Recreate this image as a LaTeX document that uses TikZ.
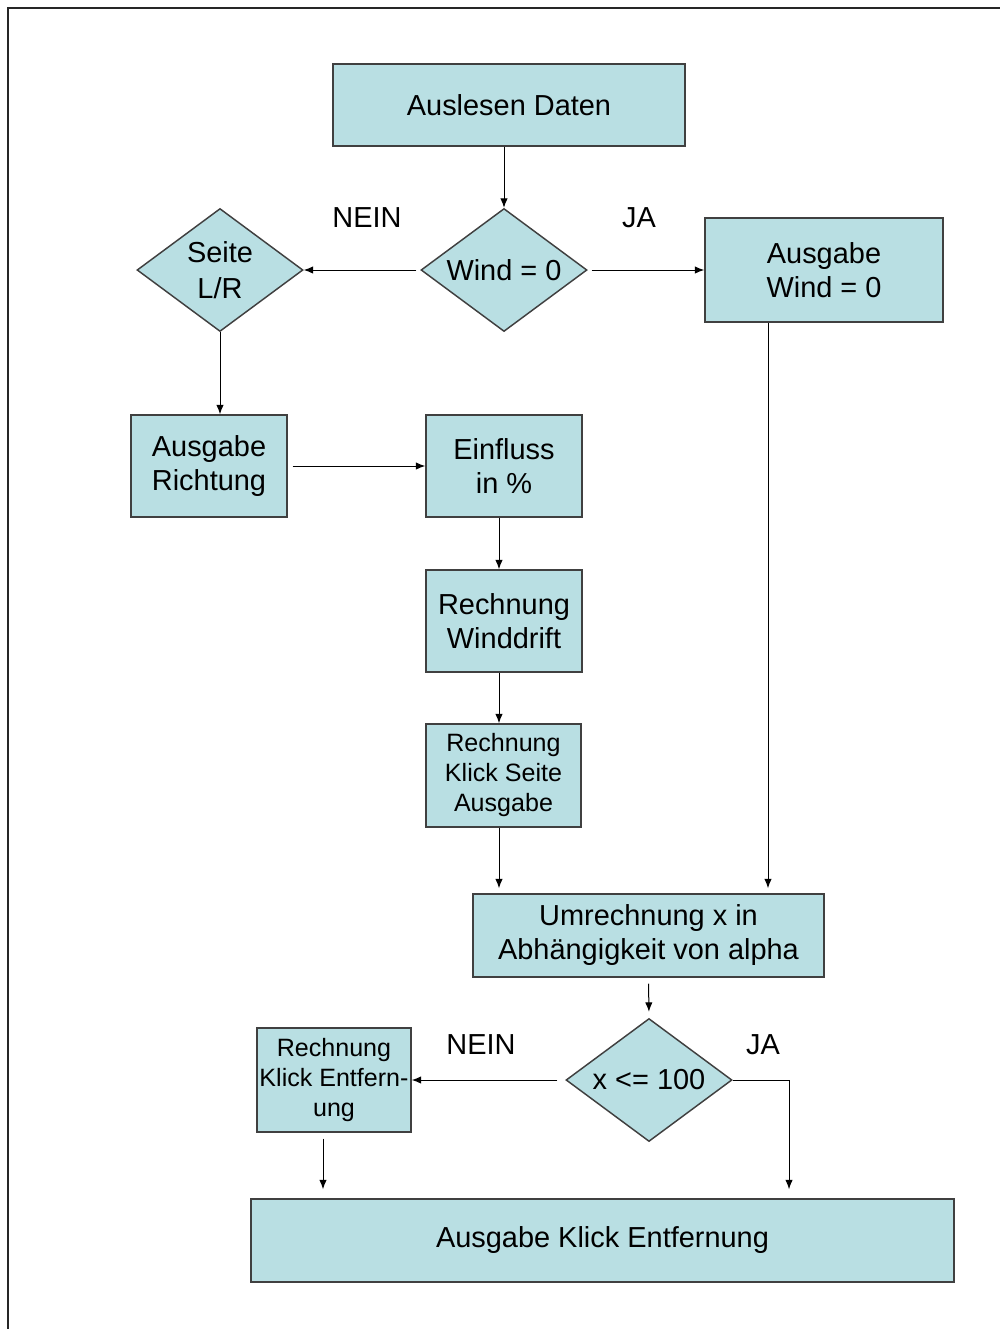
\documentclass[tikz,border=0pt]{standalone}
\usepackage{fontspec}
\setmainfont{Liberation Sans}
\usepackage{tikz}
\usetikzlibrary{arrows.meta,shapes.geometric}
\definecolor{boxfill}{HTML}{B9DFE3}
\definecolor{boxline}{HTML}{404040}

\begin{document}
\begin{tikzpicture}[x=0.75pt, y=-0.75pt,
  block/.style={rectangle, draw=boxline, fill=boxfill, line width=1.1pt, align=center, inner sep=0pt, font=\fontsize{21.7}{25.5}\selectfont},
  decision/.style={diamond, shape aspect=1.35, draw=boxline, fill=boxfill, line width=1.1pt, align=center, inner sep=0pt, minimum width=124.5pt, minimum height=92.25pt, font=\fontsize{21.7}{27}\selectfont},
  smalltext/.style={font=\fontsize{18.8}{22.5}\selectfont},
  answer/.style={font=\fontsize{21.7}{25.5}\selectfont},
  flow/.style={-{Latex[length=7pt,width=5.5pt]}, line width=0.75pt}]
  \useasboundingbox (0,0) rectangle (1000,1329);
  \draw[line width=1.5pt, black!85] (8,1329) -- (8,8) -- (1000,8);

  \node[block, minimum width=264pt, minimum height=61.5pt] (daten) at (509,105) {Auslesen Daten};
  \node[decision] (wind) at (504,270) {Wind = 0};
  \node[decision] (seite) at (220,270) {Seite\\L/R};
  \node[block, minimum width=178.5pt, minimum height=78pt] (awind) at (824,270) {Ausgabe\\Wind = 0};
  \node[block, minimum width=117pt, minimum height=76.5pt] (richtung) at (209,466) {Ausgabe\\Richtung};
  \node[block, minimum width=117pt, minimum height=76.5pt] (einfluss) at (504,466) {Einfluss\\in \%};
  \node[block, minimum width=117pt, minimum height=76.5pt] (winddrift) at (504,621) {Rechnung\\Winddrift};
  \node[block, smalltext, minimum width=116.25pt, minimum height=77.25pt] (kseite) at (503.5,775.5) {Rechnung\\Klick Seite\\Ausgabe};
  \node[block, minimum width=263.25pt, minimum height=62.25pt] (umr) at (648.5,935.5) {Umrechnung x in\\Abhängigkeit von alpha};
  \node[decision] (xdec) at (649,1080) {x <= 100};
  \node[block, smalltext, minimum width=115.5pt, minimum height=78pt] (entf) at (334,1080) {Rechnung\\Klick Entfern-\\ung};
  \node[block, minimum width=527.25pt, minimum height=62.25pt] (ausgabe) at (602.5,1240.5) {Ausgabe Klick Entfernung};

  \node[answer] (nein1) at (367,218) {NEIN};
  \node[answer] (ja1) at (639,218) {JA};
  \node[answer] (nein2) at (481,1045) {NEIN};
  \node[answer] (ja2) at (763,1045) {JA};

  \path[flow]
  ([xshift=-3.75pt]daten.south) edge (wind.north)
  ([xshift=-3pt]wind.west) edge (seite.east)
  ([xshift=3pt]wind.east) edge (awind.west)
  (seite.south) edge (seite.south |- richtung.north)
  ([xshift=3.75pt]richtung.east) edge (einfluss.west)
  ([xshift=-3.75pt]einfluss.south) edge ([xshift=-3.75pt]einfluss.south |- winddrift.north)
  ([xshift=-3.75pt]winddrift.south) edge ([xshift=-3.75pt]winddrift.south |- kseite.north)
  ([xshift=-3.75pt]winddrift.south |- kseite.south) edge[shorten >=3.75pt] ([xshift=-3.75pt]winddrift.south |- umr.north)
  ([xshift=-42pt]awind.south) edge[shorten >=3.75pt] ([xshift=-42pt]awind.south |- umr.north)
  (umr.south) edge[shorten <=4.5pt, shorten >=4.5pt] (xdec.north)
  ([xshift=-6pt]xdec.west) edge (entf.east)
  ([xshift=-8.25pt, yshift=-4.5pt]entf.south) edge[shorten >=6.75pt] ([xshift=-8.25pt]entf.south |- ausgabe.north)
  ;
  \draw[flow, shorten >=6.75pt] (xdec.east) -| ([xshift=139.9pt]ausgabe.north);
\end{tikzpicture}
\end{document}
